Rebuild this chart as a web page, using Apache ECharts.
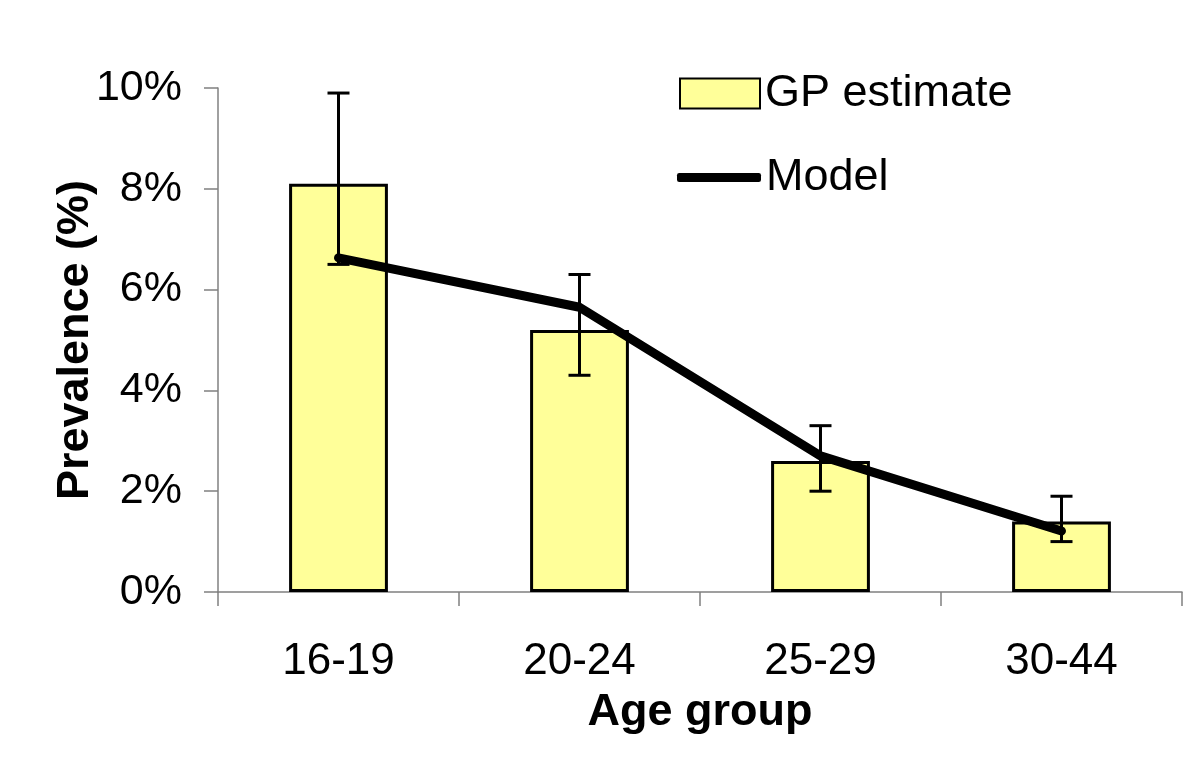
<!DOCTYPE html>
<html>
<head>
<meta charset="utf-8">
<script src="https://cdn.jsdelivr.net/npm/echarts@6/dist/echarts.min.js"></script>
<style>
  html, body { margin: 0; padding: 0; background: #fff; }
  #main { width: 1200px; height: 762px; }
</style>
</head>
<body>
<div id="main"></div>
<script>
// data (percent)
var ageGroups = ['16-19', '20-24', '25-29', '30-44'];
var gpEstimate = [8.1, 5.2, 2.6, 1.4];
var gpLow = [6.5, 4.3, 2.0, 1.0];
var gpHigh = [9.9, 6.3, 3.3, 1.9];
var model = [6.63, 5.65, 2.7, 1.21];
var yTicks = [0, 2, 4, 6, 8, 10];

var font = '"Liberation Sans", Arial, sans-serif';
var legendText = { fontFamily: font, fontSize: 45, color: '#000' };

var errData = ageGroups.map(function (g, i) {
    return [i, gpLow[i], gpHigh[i]];
});

var myChart = echarts.init(document.getElementById('main'));
var option = {
    animation: false,
    grid: { left: 218, right: 18, top: 88, bottom: 170 },
    legend: [
        {
            left: 674, top: 66,
            itemWidth: 80, itemHeight: 30,
            textStyle: legendText,
            data: [{ name: 'GP estimate', icon: 'rect' }]
        },
        {
            left: 672, top: 150,
            itemWidth: 84, itemHeight: 9,
            textStyle: legendText,
            data: [{ name: 'Model', icon: 'roundRect' }]
        }
    ],
    xAxis: {
        type: 'category',
        data: ageGroups,
        name: 'Age group',
        nameLocation: 'middle',
        nameGap: 98,
        nameMoveOverlap: false,
        nameTextStyle: { fontFamily: font, fontSize: 45, fontWeight: 'bold', color: '#000' },
        axisLine: { lineStyle: { color: '#808080', width: 1.5 } },
        axisTick: { show: true, length: 14, lineStyle: { color: '#808080', width: 1.5 } },
        axisLabel: { fontFamily: font, fontSize: 44, color: '#000', margin: 48 }
    },
    yAxis: {
        type: 'value',
        min: 0,
        max: 10,
        interval: 2,
        name: 'Prevalence (%)',
        nameLocation: 'middle',
        nameGap: 120,
        nameMoveOverlap: false,
        nameTextStyle: { fontFamily: font, fontSize: 45, fontWeight: 'bold', color: '#000' },
        splitLine: { show: false },
        axisLine: { show: true, lineStyle: { color: '#808080', width: 1.5 } },
        axisTick: { show: true, length: 14, lineStyle: { color: '#808080', width: 1.5 } },
        axisLabel: {
            fontFamily: font, fontSize: 43, color: '#000', margin: 36,
            formatter: function (v) { return yTicks.indexOf(v) >= 0 ? v + '%' : ''; }
        }
    },
    series: [
        {
            name: 'GP estimate',
            type: 'bar',
            data: gpEstimate,
            barWidth: '41%',
            itemStyle: { color: '#ffff99', borderColor: '#000', borderWidth: 3 },
            z: 2
        },
        {
            name: 'GP error',
            type: 'custom',
            data: errData,
            z: 3,
            renderItem: function (params, api) {
                var x = api.value(0);
                var lo = api.coord([x, api.value(1)]);
                var hi = api.coord([x, api.value(2)]);
                var half = 11;
                var style = { stroke: '#000', lineWidth: 3 };
                return {
                    type: 'group',
                    children: [
                        { type: 'line', shape: { x1: lo[0], y1: lo[1], x2: hi[0], y2: hi[1] }, style: style },
                        { type: 'line', shape: { x1: lo[0] - half, y1: lo[1], x2: lo[0] + half, y2: lo[1] }, style: style },
                        { type: 'line', shape: { x1: hi[0] - half, y1: hi[1], x2: hi[0] + half, y2: hi[1] }, style: style }
                    ]
                };
            }
        },
        {
            name: 'Model',
            type: 'line',
            data: model,
            symbol: 'none',
            lineStyle: { color: '#000', width: 9, cap: 'round', join: 'round' },
            itemStyle: { color: '#000' },
            z: 4
        }
    ]
};
myChart.setOption(option);
</script>
</body>
</html>
